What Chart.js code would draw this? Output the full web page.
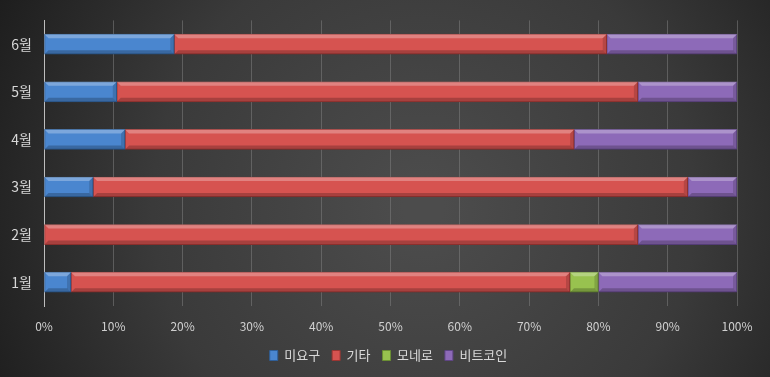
<!DOCTYPE html>
<html lang="ko">
<head>
<meta charset="utf-8">
<script src="https://cdn.jsdelivr.net/npm/chart.js@4/dist/chart.umd.min.js"></script>
<style>
  html, body { margin: 0; padding: 0; background: #2a2a2a; }
  #wrap { width: 770px; height: 377px; position: relative; }
</style>
</head>
<body>
<div id="wrap"><canvas id="c" width="770" height="377"></canvas></div>
<script>
// Monthly share by category (percent of total)
const months   = ['1월', '2월', '3월', '4월', '5월', '6월'];
const unknown  = [3.9, 0,    7.1,  11.7, 10.5, 18.8];   // 미요구
const other    = [72.0, 85.7, 85.8, 64.8, 75.2, 62.4];  // 기타
const monero   = [4.1, 0,    0,    0,    0,    0];      // 모네로
const bitcoin  = [20.0, 14.3, 7.1,  23.5, 14.3, 18.8];  // 비트코인
const xTicks   = [0, 10, 20, 30, 40, 50, 60, 70, 80, 90, 100];

const FONT = '"Noto Sans CJK KR", "Noto Sans", sans-serif';

// dark vignette backdrop
const backdrop = {
  id: 'backdrop',
  beforeDraw(chart) {
    const { ctx, width, height } = chart;
    ctx.save();
    const g = ctx.createRadialGradient(width * 0.55, height * 0.55, 20, width * 0.55, height * 0.55, width * 0.62);
    g.addColorStop(0, '#4c4c4c');
    g.addColorStop(0.55, '#3a3a3a');
    g.addColorStop(1, '#1d1d1d');
    ctx.fillStyle = g;
    ctx.fillRect(0, 0, width, height);
    ctx.restore();
  }
};

// nudge the legend so it sits centred under the whole canvas
const legendShift = {
  id: 'legendShift',
  afterLayout(chart) {
    const lg = chart.legend;
    if (!lg) return;
    lg.left += 20;
    lg.right += 20;
  }
};

// bevel highlight / shade on each bar segment
const bevel = {
  id: 'bevel',
  afterDatasetsDraw(chart) {
    const { ctx } = chart;
    ctx.save();
    chart.data.datasets.forEach((ds, i) => {
      const meta = chart.getDatasetMeta(i);
      if (meta.hidden) return;
      meta.data.forEach(bar => {
        const p = bar.getProps(['x', 'y', 'base', 'height'], true);
        const x0 = Math.min(p.x, p.base), x1 = Math.max(p.x, p.base);
        const w = x1 - x0;
        if (w < 1) return;
        const top = p.y - p.height / 2, h = p.height;
        const e = Math.min(4, w / 2);
        ctx.fillStyle = 'rgba(255,255,255,0.28)';
        ctx.beginPath();
        ctx.moveTo(x0, top); ctx.lineTo(x1, top);
        ctx.lineTo(x1 - e, top + 4); ctx.lineTo(x0 + e, top + 4);
        ctx.closePath(); ctx.fill();
        ctx.fillStyle = 'rgba(0,0,0,0.22)';
        ctx.beginPath();
        ctx.moveTo(x0, top + h); ctx.lineTo(x1, top + h);
        ctx.lineTo(x1 - e, top + h - 4); ctx.lineTo(x0 + e, top + h - 4);
        ctx.closePath(); ctx.fill();
        ctx.fillStyle = 'rgba(0,0,0,0.15)';
        ctx.beginPath();
        ctx.moveTo(x1, top); ctx.lineTo(x1, top + h);
        ctx.lineTo(x1 - e, top + h - 4); ctx.lineTo(x1 - e, top + 4);
        ctx.closePath(); ctx.fill();
      });
    });
    ctx.restore();
  }
};

function series(label, data, color, edge) {
  return {
    label, data,
    backgroundColor: color,
    borderColor: edge,
    borderWidth: 1,
    borderSkipped: false,
    barThickness: 20
  };
}

new Chart(document.getElementById('c'), {
  type: 'bar',
  data: {
    labels: months,
    datasets: [
      series('미요구', unknown, '#4a86cf', '#2f5f99'),
      series('기타', other, '#d65350', '#9c3532'),
      series('모네로', monero, '#98c24f', '#6b8f33'),
      series('비트코인', bitcoin, '#8d6ab8', '#5f4585')
    ]
  },
  options: {
    indexAxis: 'y',
    responsive: false,
    animation: false,
    layout: { padding: { left: 0, right: 33, top: 11, bottom: 5 } },
    scales: {
      x: {
        stacked: true,
        min: 0, max: 100,
        afterBuildTicks(axis) { axis.ticks = xTicks.map(v => ({ value: v })); },
        afterFit(axis) { axis.height = 31; },
        grid: { color: 'rgba(125,125,125,0.55)', lineWidth: 1, drawTicks: false },
        border: { display: false },
        ticks: {
          color: '#d0d0d0',
          font: { family: FONT, size: 12 },
          padding: 13,
          maxRotation: 0,
          callback: v => v + '%'
        }
      },
      y: {
        stacked: true,
        reverse: true,
        afterFit(axis) { axis.width = 44; },
        grid: { display: false, drawTicks: false },
        border: { display: true, color: '#bdbdbd', width: 1 },
        ticks: {
          color: '#d8d8d8',
          font: { family: FONT, size: 14 },
          padding: 12
        }
      }
    },
    plugins: {
      legend: {
        position: 'bottom',
        labels: {
          color: '#d9d9d9',
          font: { family: FONT, size: 13 },
          boxWidth: 8,
          boxHeight: 10,
          padding: 12
        }
      },
      tooltip: { enabled: false }
    }
  },
  plugins: [backdrop, legendShift, bevel]
});
</script>
</body>
</html>
